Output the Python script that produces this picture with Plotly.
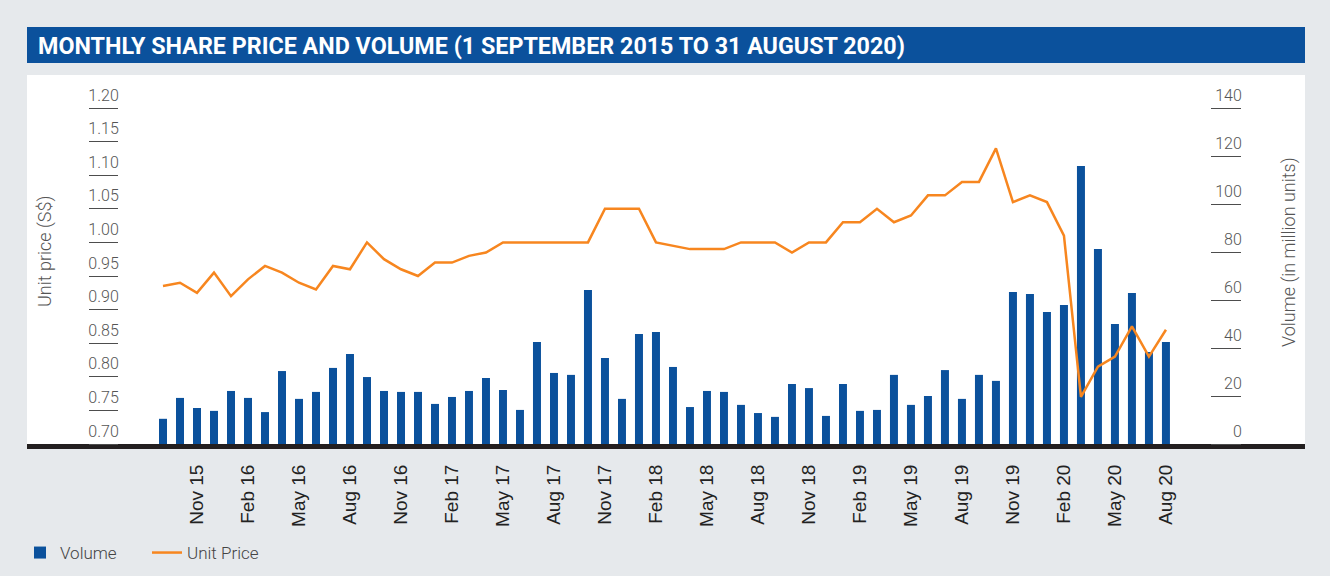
import plotly.graph_objects as go
import pandas as pd

months = [d.strftime("%b %y") for d in pd.date_range("2015-09-01", "2020-08-01", freq="MS")]
tick_months = ["Nov 15", "Feb 16", "May 16", "Aug 16", "Nov 16", "Feb 17", "May 17", "Aug 17",
               "Nov 17", "Feb 18", "May 18", "Aug 18", "Nov 18", "Feb 19", "May 19", "Aug 19",
               "Nov 19", "Feb 20", "May 20", "Aug 20"]

volume = [10.5, 19.2, 15.0, 13.8, 22.1, 19.2, 13.3, 30.4, 18.8, 21.7,
          31.7, 37.5, 27.9, 22.1, 21.7, 21.7, 16.7, 19.6, 22.1, 27.5,
          22.5, 14.2, 42.5, 29.6, 28.8, 64.2, 35.8, 18.8, 45.8, 46.7,
          32.1, 15.4, 22.1, 21.7, 16.3, 12.9, 11.3, 25.0, 23.3, 11.7,
          25.0, 13.8, 14.2, 28.8, 16.3, 20.0, 30.8, 18.8, 28.8, 26.3,
          63.3, 62.5, 55.0, 57.9, 115.8, 81.3, 50.0, 62.9, 38.3, 42.5]

price = [0.935, 0.940, 0.925, 0.955, 0.920, 0.945, 0.965, 0.955, 0.940, 0.930,
         0.965, 0.960, 1.000, 0.975, 0.960, 0.950, 0.970, 0.970, 0.980, 0.985,
         1.000, 1.000, 1.000, 1.000, 1.000, 1.000, 1.050, 1.050, 1.050, 1.000,
         0.995, 0.990, 0.990, 0.990, 1.000, 1.000, 1.000, 0.985, 1.000, 1.000,
         1.030, 1.030, 1.050, 1.030, 1.040, 1.070, 1.070, 1.090, 1.090, 1.140,
         1.060, 1.070, 1.060, 1.010, 0.770, 0.815, 0.830, 0.875, 0.830, 0.870]

price_ticks = [0.70, 0.75, 0.80, 0.85, 0.90, 0.95, 1.00, 1.05, 1.10, 1.15, 1.20]
volume_ticks = [0, 20, 40, 60, 80, 100, 120, 140]

W, H = 1330, 576
BLUE = "#0b519c"
ORANGE = "#f7861f"
BG = "#e6e9ec"
TXT = "#555555"
TICK = "#4d4d4d"
FONT = "Roboto"

px_x = lambda p: p / W
px_y = lambda p: 1 - p / H

fig = go.Figure()
fig.add_trace(go.Bar(x=months, y=volume, name="Volume", marker_color=BLUE,
                     marker_line_width=0, yaxis="y"))
fig.add_trace(go.Scatter(x=months, y=price, name="Unit Price", mode="lines",
                         line=dict(color=ORANGE, width=2.5), yaxis="y2"))

tickfont = dict(family=FONT, size=16, color=TXT, weight=300)

fig.update_layout(
    width=W, height=H,
    margin=dict(l=0, r=0, t=0, b=0, autoexpand=False),
    paper_bgcolor=BG, plot_bgcolor="white",
    bargap=0.53,
    showlegend=True,
    legend=dict(orientation="h", x=px_x(20), xanchor="left", y=px_y(553), yanchor="middle",
                font=dict(family=FONT, size=17, color="#444444", weight=300),
                bgcolor="rgba(0,0,0,0)", itemwidth=30, tracegroupgap=0,
                entrywidth=82, entrywidthmode="pixels"),
    xaxis=dict(domain=[px_x(27), px_x(1305)], range=[-8, 67.18], type="category",
               tickmode="array", tickvals=tick_months, ticktext=tick_months,
               tickangle=-90, ticks="", showgrid=False, zeroline=False,
               showline=True, linecolor="#231f20", linewidth=5,
               tickfont=dict(family="Liberation Sans, Arial", size=19, color="#222222"),
               ticklabelstandoff=8, anchor="y"),
    yaxis=dict(domain=[px_y(444), px_y(75)], range=[0, 153.75],
               tickmode="array", tickvals=volume_ticks,
               anchor="free", position=px_x(1241), side="left",
               ticks="outside", ticklen=30, tickcolor=TICK, tickwidth=1,
               showgrid=False, zeroline=False, showline=False,
               tickfont=tickfont, ticklabelshift=-13, ticklabelstandoff=-34),
    yaxis2=dict(domain=[px_y(444), px_y(75)], range=[0.70, 1.2491],
                tickmode="array", tickvals=price_ticks, tickformat=".2f",
                overlaying="y", anchor="free", position=px_x(118), side="left",
                ticks="outside", ticklen=29, tickcolor=TICK, tickwidth=1,
                showgrid=False, zeroline=False, showline=False,
                tickfont=tickfont, ticklabelshift=-13, ticklabelstandoff=-33),
    shapes=[dict(type="rect", xref="paper", yref="paper",
                 x0=px_x(27), x1=px_x(1305), y0=px_y(63), y1=px_y(27),
                 fillcolor=BLUE, line_width=0, layer="below")],
    annotations=[
        dict(text="<b>MONTHLY SHARE PRICE AND VOLUME (1 SEPTEMBER 2015 TO 31 AUGUST 2020)</b>",
             xref="paper", yref="paper", x=px_x(36), y=px_y(46), xanchor="left", yanchor="middle",
             showarrow=False, font=dict(family=FONT, size=23.3, color="white")),
        dict(text="Unit price (S$)", xref="paper", yref="paper", x=px_x(45), y=px_y(252),
             textangle=-90, showarrow=False, xanchor="center", yanchor="middle",
             font=dict(family=FONT, size=18, color=TXT, weight=300)),
        dict(text="Volume (in million units)", xref="paper", yref="paper", x=px_x(1289), y=px_y(252),
             textangle=-90, showarrow=False, xanchor="center", yanchor="middle",
             font=dict(family=FONT, size=18, color=TXT, weight=300)),
    ],
)

fig.write_html("out.html")
